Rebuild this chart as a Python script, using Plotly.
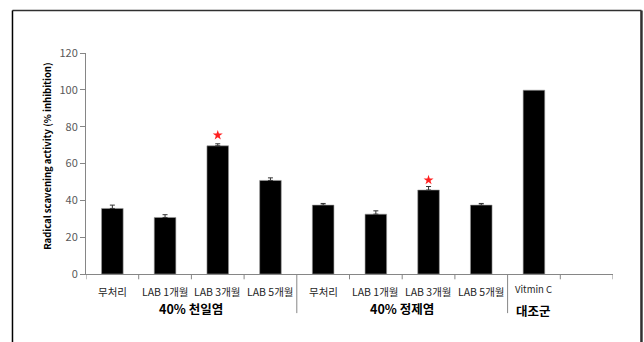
import plotly.graph_objects as go

# Sample groups and measurements
categories = ["무처리", "LAB 1개월", "LAB 3개월", "LAB 5개월",
              "무처리", "LAB 1개월", "LAB 3개월", "LAB 5개월",
              "Vitmin C", ""]
values = [35.6, 30.7, 69.6, 50.8, 37.4, 32.5, 45.6, 37.4, 99.8, None]
errors = [1.8, 1.5, 1.1, 1.4, 0.9, 1.8, 1.9, 0.9, None, None]
groups = ["40% 천일염", "40% 정제염", "대조군"]
group_centers = [1.5, 5.5, 8.0]
star_idx = [2, 6]
star_y = [75.4, 51.0]
y_ticks = [0, 20, 40, 60, 80, 100, 120]

FONT = "Noto Sans CJK KR"
AX = "#868686"
x = list(range(len(categories)))

fig = go.Figure()
fig.add_trace(go.Bar(
    x=x, y=values, width=0.41,
    marker=dict(color="black", line=dict(color="#9a9a9a", width=0.6)),
    showlegend=False,
))
# error bars only where a standard deviation was measured
ex = [i for i, e in enumerate(errors) if e is not None]
fig.add_trace(go.Scatter(
    x=ex, y=[values[i] for i in ex], mode="markers",
    marker=dict(size=0.1, color="rgba(0,0,0,0)"),
    error_y=dict(type="data", array=[errors[i] for i in ex], visible=True,
                 symmetric=False, arrayminus=[0] * len(ex),
                 color="#333333", thickness=1, width=2.5),
    showlegend=False, hoverinfo="skip",
))
fig.add_trace(go.Scatter(
    x=star_idx, y=star_y, mode="markers",
    marker=dict(symbol="star", size=7.5, color="#ff2020"),
    showlegend=False,
))

ann = []
for i, c in enumerate(categories):
    if not c:
        continue
    vit = c.startswith("Vit")
    ann.append(dict(x=i, y=-0.068 if vit else -0.081, xref="x", yref="paper",
                    text=c, showarrow=False, yanchor="middle",
                    font=dict(family=FONT, size=9.5 if vit else 10.5, color="#262626")))
for g, cx in zip(groups, group_centers):
    ann.append(dict(x=cx, y=-0.157 if g != "대조군" else -0.163, xref="x", yref="paper",
                    text=f"<b>{g}</b>", showarrow=False, yanchor="middle",
                    font=dict(family=FONT, size=12.5, color="black")))
ann.append(dict(x=-0.074, y=0.53, xref="paper", yref="paper",
                xanchor="center", yanchor="middle",
                text="<b>Radical scavening activity (% inhibition)</b>",
                textangle=-90, showarrow=False,
                font=dict(family=FONT, size=9.5, color="black")))

shapes = []
# category ticks below the axis
for b in [i - 0.5 for i in range(len(categories) + 1)]:
    long_ = b in (3.5, 7.5)
    shapes.append(dict(type="line", xref="x", yref="paper", x0=b, x1=b,
                       y0=0, y1=-0.177 if long_ else -0.024,
                       line=dict(color=AX, width=1)))
# outer frame
shapes += [
    dict(type="line", xref="paper", yref="paper", x0=-0.1395, x1=1.054,
         y0=1.192, y1=1.192, line=dict(color="#303030", width=1.5)),
    dict(type="line", xref="paper", yref="paper", x0=-0.1395, x1=-0.1395,
         y0=1.192, y1=-0.4, line=dict(color="black", width=1.5)),
    dict(type="line", xref="paper", yref="paper", x0=1.054, x1=1.054,
         y0=1.192, y1=-0.4, line=dict(color="#303030", width=2.5)),
]

fig.update_layout(
    width=644, height=342,
    margin=dict(l=86, r=31, t=53, b=68),
    paper_bgcolor="white", plot_bgcolor="white",
    annotations=ann, shapes=shapes,
    xaxis=dict(range=[-0.5, 9.5], showticklabels=False, showgrid=False,
               zeroline=False, showline=True, linecolor=AX, linewidth=1,
               ticks=""),
    yaxis=dict(range=[0, 120], tickvals=y_ticks, showgrid=False, zeroline=False,
               showline=True, linecolor=AX, linewidth=1, ticks="outside",
               ticklen=5, tickcolor=AX,
               tickfont=dict(family=FONT, size=11, color="#595959")),
)

fig.write_html("out.html")
